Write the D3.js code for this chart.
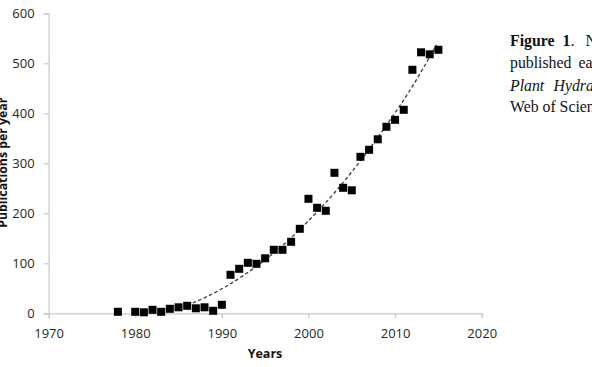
<!DOCTYPE html>
<html>
<head>
<meta charset="utf-8">
<script src="https://cdn.jsdelivr.net/npm/d3@7"></script>
<style>
  html, body { margin: 0; padding: 0; background: #fff; overflow: hidden; }
  svg { display: block; }
</style>
</head>
<body>
<svg id="chart" width="592" height="367"></svg>
<script>
// ---- Data ----
const years = [1978,1980,1981,1982,1983,1984,1985,1986,1987,1988,1989,1990,
  1991,1992,1993,1994,1995,1996,1997,1998,1999,2000,2001,2002,2003,2004,2005,
  2006,2007,2008,2009,2010,2011,2012,2013,2014,2015];
const publications = [3,3,2,7,3,9,12,15,10,12,5,17,
  77,89,101,99,110,127,127,143,169,229,211,205,281,251,246,
  313,327,348,373,387,407,487,522,518,527];

// dashed trend line
const trendYears  = [1986,1988,1990,1992,1995,1998,2000,2003,2006,2009,2012,2014.8];
const trendValues = [16,31,49,70,107,151,185,241,305,376,454,537];

const xTicks = [1970,1980,1990,2000,2010,2020];
const yTicks = [0,100,200,300,400,500,600];

const xTitle = "Years";
const yTitle = "Publications per year";

// ---- Drawing ----
const svg = d3.select("#chart");
const x = d3.scaleLinear().domain([1970, 2020]).range([48.6, 481.7]);
const y = d3.scaleLinear().domain([0, 600]).range([313.3, 13.3]);

const axisColor = "#c9c9c9";
const textColor = "#262626";
const tickFont = "'Open Sans', sans-serif";

// Y axis
const gy = svg.append("g")
  .attr("transform", `translate(${x(1970)},0)`)
  .call(d3.axisLeft(y).tickValues(yTicks).tickSize(5).tickPadding(9).tickFormat(d3.format("d")));
// X axis
const gx = svg.append("g")
  .attr("transform", `translate(0,${y(0)})`)
  .call(d3.axisBottom(x).tickValues(xTicks).tickSize(5).tickPadding(10.5).tickFormat(d3.format("d")));

[gx, gy].forEach(g => {
  g.select(".domain").attr("stroke", axisColor).attr("stroke-width", 1.2);
  g.selectAll(".tick line").attr("stroke", axisColor).attr("stroke-width", 1.2);
  g.selectAll(".tick text")
    .attr("fill", textColor)
    .style("font-family", tickFont)
    .style("font-size", "13px");
});

// Trend line
const line = d3.line()
  .x((d, i) => x(trendYears[i]))
  .y((d, i) => y(trendValues[i]))
  .curve(d3.curveMonotoneX);
svg.append("path")
  .datum(trendValues)
  .attr("d", line)
  .attr("fill", "none")
  .attr("stroke", "#3a3a3a")
  .attr("stroke-width", 1.3)
  .attr("stroke-dasharray", "3.5,2.5");

// Markers
const ms = 8;
svg.append("g").selectAll("rect")
  .data(years)
  .join("rect")
  .attr("x", (d) => x(d) - ms / 2)
  .attr("y", (d, i) => y(publications[i]) - ms / 2)
  .attr("width", ms)
  .attr("height", ms)
  .attr("fill", "#000");

// Axis titles
svg.append("text")
  .attr("x", 265).attr("y", 358)
  .attr("text-anchor", "middle")
  .attr("fill", "#111")
  .style("font-family", tickFont)
  .style("font-weight", "bold")
  .style("font-size", "12.5px")
  .text(xTitle);

svg.append("text")
  .attr("transform", "translate(6.5,162.7) rotate(-90)")
  .attr("text-anchor", "middle")
  .attr("fill", "#111")
  .style("font-family", tickFont)
  .style("font-weight", "bold")
  .style("font-size", "12.3px")
  .text(yTitle);

// Caption at right (clipped by window, as in the reference)
const cap = svg.append("g")
  .style("font-family", "'Liberation Serif', 'Times New Roman', serif")
  .style("font-size", "15.8px")
  .attr("fill", "#111");

const l1 = cap.append("text").attr("y", 46.3);
l1.append("tspan").attr("x", 510).style("font-weight", "bold").text("Figure");
l1.append("tspan").attr("x", 562.5).style("font-weight", "bold").text("1");
l1.append("tspan").text(".");
l1.append("tspan").attr("x", 585.5).text("Number");

const l2 = cap.append("text").attr("y", 68);
l2.append("tspan").attr("x", 510).text("published");
l2.append("tspan").attr("x", 578.5).text("each");

const l3 = cap.append("text").attr("y", 90.7).style("font-style", "italic");
l3.append("tspan").attr("x", 510).text("Plant");
l3.append("tspan").attr("x", 553.5).text("Hydraulics");

cap.append("text").attr("x", 510).attr("y", 111.8).text("Web of Science");
</script>
</body>
</html>
